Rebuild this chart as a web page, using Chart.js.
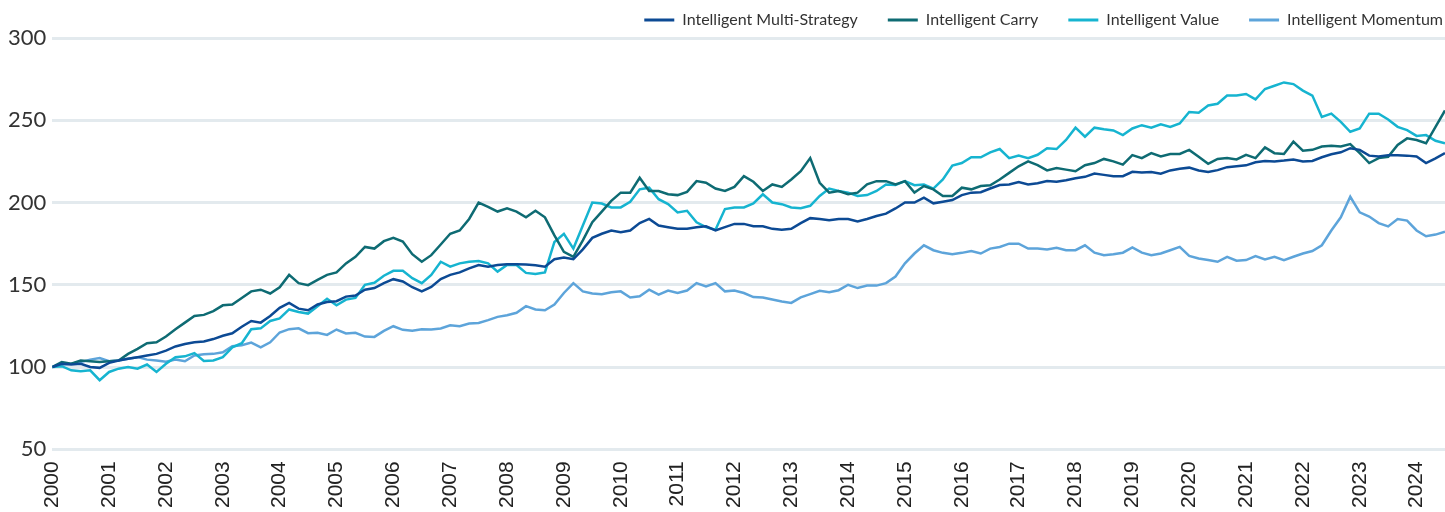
<!DOCTYPE html>
<html>
<head>
<meta charset="utf-8">
<script src="https://cdn.jsdelivr.net/npm/chart.js@4.4.1/dist/chart.umd.min.js"></script>
<style>
  html, body { margin: 0; padding: 0; background: #fff; }
  #wrap { width: 1445px; height: 512px; }
</style>
</head>
<body>
<div id="wrap"><canvas id="myChart"></canvas></div>
<script>
// one value every two months, Jan 2000 .. Jul 2024
const startYear = 2000;
const monthsPerPoint = 2;

const seriesNames = ['Intelligent Multi-Strategy', 'Intelligent Carry', 'Intelligent Value', 'Intelligent Momentum'];
const seriesColors = ['#0c4a94', '#0e6b73', '#16b4d0', '#5da4da'];

const multiStrategy = [
  100, 102, 101.5, 102, 100, 99.5,
  102.5, 104, 105, 106, 107, 108,
  110, 112.5, 114, 115, 115.5, 117,
  119, 120.5, 124.5, 128, 127, 131,
  136, 139, 135.5, 134.5, 138, 139.5,
  140, 142.8, 143.5, 147, 148, 151,
  153.4, 152, 148.5, 146, 148.7, 153.5,
  156, 157.5, 160, 162, 161, 162,
  162.5, 162.5, 162.3, 161.8, 161, 165.5,
  166.5, 165.5, 171.5, 178.5, 181, 183,
  182, 183, 187.5, 190, 186, 185,
  184, 184, 185, 185.5, 183, 185,
  187, 187, 185.6, 185.6, 184, 183.4,
  184, 187.5, 190.5, 190, 189.2, 190,
  190, 188.5, 190, 191.8, 193.2, 196.4,
  200, 200, 203, 199.5, 200.5, 201.5,
  204.5, 206, 206.3, 208.5, 210.6, 211,
  212.5, 211, 211.7, 213, 212.6, 213.5,
  214.8, 215.6, 217.6, 216.8, 216, 216,
  218.7, 218.2, 218.5, 217.5, 219.5, 220.5,
  221.2, 219.5, 218.5, 219.7, 221.5, 222,
  222.6, 224.5, 225.2, 225, 225.5, 226.2,
  225, 225.3, 227.5, 229.3, 230.5, 233,
  232, 228.5, 228, 228.8, 228.8, 228.5,
  228, 224, 226.8, 230
];

const carry = [
  100, 103, 102, 104, 103.5, 103,
  103.5, 104, 108, 111, 114.5, 115,
  118.5, 123, 127, 131, 131.7, 134,
  137.5, 138, 142, 146, 147, 144.7,
  148.5, 156, 151, 149.8, 153, 156,
  157.5, 163, 167, 173, 172, 176.5,
  178.5, 176.3, 168.6, 164, 168, 174.5,
  181, 183, 190, 200, 197.4, 194.5,
  196.4, 194.5, 191, 195, 191, 180,
  170, 167, 177, 188, 194.5, 201,
  206, 206, 215, 207, 207, 205,
  204.5, 206.5, 213, 212, 208.5, 207,
  209.5, 216, 212.6, 207, 211, 209.5,
  214, 219, 227, 212, 206, 207,
  205, 206, 211, 213, 213, 211,
  213, 206, 210, 208, 204, 204,
  209, 208, 210, 210.5, 214, 218,
  222, 225, 222.7, 219.5, 221, 220,
  219, 222.7, 224, 226.5, 225, 223,
  228.8, 227, 230, 228, 229.5, 229.5,
  232, 227.8, 223.5, 226.5, 227, 226.2,
  229, 227, 233.5, 230, 229.5, 237,
  231.5, 232, 234, 234.5, 234, 235.5,
  230, 224, 227, 227.8, 235, 239,
  238, 236, 246, 256
];

const value = [
  100, 100.5, 98, 97.5, 98, 92,
  97, 99, 100, 99, 101.5, 97,
  102, 106, 106.5, 108.5, 103.7, 104,
  106, 112, 114.5, 123, 123.5, 128,
  129.5, 135, 133.5, 132.5, 137, 141.5,
  137.5, 141, 142, 150, 151.2, 155.5,
  158.5, 158.5, 154, 151, 156, 164,
  161, 163, 164, 164.5, 163, 158,
  162, 162, 157.2, 156.5, 157.5, 176,
  181, 172, 186, 200, 199.4, 197,
  197, 200.4, 208, 209, 202, 199,
  194, 195, 188, 185, 183.5, 196,
  197, 197, 199.5, 205, 200, 199,
  197, 196.5, 198, 204, 208.5, 207,
  206, 204, 204.5, 207, 211, 210.6,
  213, 210.5, 211, 208.5, 214, 222.5,
  224, 227.5, 227.5, 230.5, 232.5, 227,
  228.5, 227, 229, 233, 232.5, 238,
  245.5, 240, 245.5, 244.5, 243.8, 241,
  245, 247, 245.5, 247.5, 246, 248,
  255, 254.6, 259, 260, 265, 265,
  266, 262.7, 269, 271, 273, 272,
  268, 265, 252, 254, 249, 243,
  245, 254, 254, 250.5, 246, 244,
  240.5, 241, 237.5, 236
];

const momentum = [
  100, 101.5, 102, 103, 104.5, 105.5,
  103.5, 104, 105, 106, 104.5, 104,
  103.2, 104.5, 103.5, 107, 107.8, 108,
  109, 112.6, 113.2, 114.9, 112, 115,
  121, 123, 123.5, 120.6, 120.8, 119.5,
  122.8, 120.4, 120.8, 118.5, 118.3, 122,
  124.8, 122.6, 122, 123, 122.8, 123.4,
  125.4, 124.8, 126.4, 126.8, 128.5, 130.5,
  131.5, 133, 137, 135, 134.5, 138,
  145, 151, 146, 144.7, 144.3, 145.5,
  146, 142.3, 143, 147, 144, 146.5,
  145, 146.5, 151, 149, 151, 146,
  146.5, 145, 142.5, 142.3, 141, 139.8,
  139, 142.3, 144.3, 146.3, 145.5, 146.7,
  150, 148, 149.5, 149.5, 151, 155,
  163, 169, 174, 171, 169.4, 168.5,
  169.4, 170.5, 169, 172, 173, 175,
  175, 172, 172.1, 171.5, 172.5, 171,
  171, 174, 169.5, 168, 168.5, 169.5,
  172.7, 169.5, 168, 169, 171, 173,
  167.5, 166, 165, 164, 167, 164.6,
  165, 167.5, 165.4, 167, 165, 167,
  169, 170.5, 174, 183, 191, 203.5,
  194, 191.5, 187.5, 185.5, 190, 189,
  183, 179.5, 180.5, 182.2
];

const yTicks = { min: 50, max: 300, step: 50 };

const toPoints = arr => arr.map((v, i) => ({ x: startYear + i * monthsPerPoint / 12, y: v }));
const lastX = startYear + (multiStrategy.length - 1) * monthsPerPoint / 12;

// the legend runs off the right edge, as in the source
const legendShift = {
  id: 'legendShift',
  afterLayout(chart) {
    chart.legend.right = chart.width + 28;
  }
};

const ctx = document.getElementById('myChart');

new Chart(ctx, {
  type: 'line',
  data: {
    datasets: [multiStrategy, carry, value, momentum].map((arr, i) => ({
      label: seriesNames[i],
      data: toPoints(arr),
      borderColor: seriesColors[i],
      backgroundColor: seriesColors[i],
      borderWidth: 2.5,
      pointRadius: 0,
      tension: 0
    }))
  },
  options: {
    responsive: true,
    maintainAspectRatio: false,
    animation: false,
    layout: {
      padding: { top: -18, left: 2, right: 0, bottom: -8 }
    },
    plugins: {
      legend: {
        position: 'top',
        align: 'end',
        labels: {
          boxWidth: 30,
          boxHeight: 3,
          padding: 30,
          color: '#333',
          font: { family: 'Lato', size: 16 },
          generateLabels: chart =>
            Chart.defaults.plugins.legend.labels.generateLabels(chart).map(l => ({ ...l, lineWidth: 0 }))
        }
      },
      tooltip: { enabled: false }
    },
    scales: {
      x: {
        type: 'linear',
        min: startYear,
        max: lastX,
        grid: { display: false, drawTicks: false },
        border: { display: false },
        afterFit: scale => { scale.paddingRight = 0; },
        ticks: {
          stepSize: 1,
          includeBounds: false,
          minRotation: 90,
          maxRotation: 90,
          padding: 12,
          color: '#222',
          font: { family: 'Liberation Sans', size: 21 },
          callback: v => Number.isInteger(v) ? String(v) : ''
        }
      },
      y: {
        min: yTicks.min,
        max: yTicks.max,
        grid: { color: '#e3eaee', lineWidth: 3, drawTicks: false },
        border: { display: false },
        ticks: {
          stepSize: yTicks.step,
          padding: 6,
          color: '#333',
          font: { family: 'Lato', size: 22 }
        }
      }
    }
  },
  plugins: [legendShift]
});
</script>
</body>
</html>
